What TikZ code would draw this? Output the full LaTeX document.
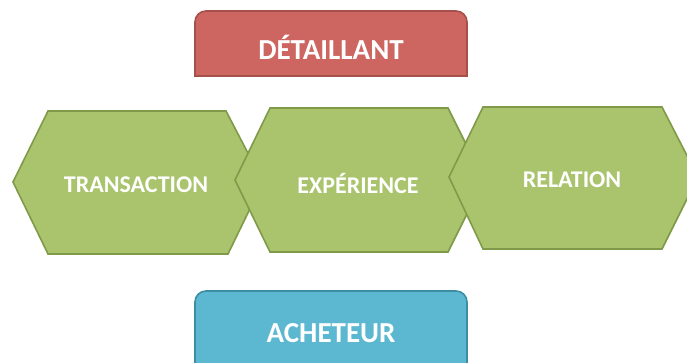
\documentclass[tikz,border=0pt]{standalone}
\usepackage{fontspec}
\setmainfont{Carlito}
\definecolor{redfill}{HTML}{CD6661}
\definecolor{redline}{HTML}{A5504B}
\definecolor{greenfill}{HTML}{A9C46C}
\definecolor{greenline}{HTML}{7F9A48}
\definecolor{bluefill}{HTML}{5BB8D0}
\definecolor{blueline}{HTML}{3E8EA3}
\tikzset{
  hexbox/.style={fill=greenfill, draw=greenline, line width=1.6pt, line join=miter},
  redbox/.style={fill=redfill, draw=redline, line width=1.6pt},
  bluebox/.style={fill=bluefill, draw=blueline, line width=1.6pt},
  hexlabel/.style={text=white, font=\bfseries\fontsize{24}{28}\selectfont, inner sep=0pt},
  boxlabel/.style={text=white, font=\bfseries\fontsize{29}{34}\selectfont, inner sep=0pt}
}
\begin{document}
\begin{tikzpicture}[x=1pt,y=-1pt]
\useasboundingbox (0,0) rectangle (687,362);
\clip (0,0) rectangle (687,362);
% top box
\draw[redbox] (195,76) [rounded corners=11pt] -- (195,11) -- (467,11) [sharp corners] -- (467,76) -- cycle;
\node[boxlabel] (detaillant) at (331,47) {DÉTAILLANT};
% hexagons
\draw[hexbox] (13,182) -- (48,111) -- (226,111) -- (263,182) -- (228,254) -- (48,254) -- cycle;
\node[hexlabel] (transaction) at (136,185) {TRANSACTION};
\draw[hexbox] (235,180) -- (270,108) -- (448,108) -- (484,180) -- (448,252) -- (270,252) -- cycle;
\node[hexlabel] (experience) at (358,183) {EXPÉRIENCE};
\draw[hexbox] (449,177) -- (483,107) -- (662,107) -- (698,177) -- (662,249) -- (483,249) -- cycle;
\node[hexlabel] (relation) at (572,180) {RELATION};
% bottom box
\draw[bluebox] (195,375) [rounded corners=11pt] -- (195,291) -- (467,291) [sharp corners] -- (467,375) -- cycle;
\node[boxlabel] (acheteur) at (331,333) {ACHETEUR};
\end{tikzpicture}
\end{document}
